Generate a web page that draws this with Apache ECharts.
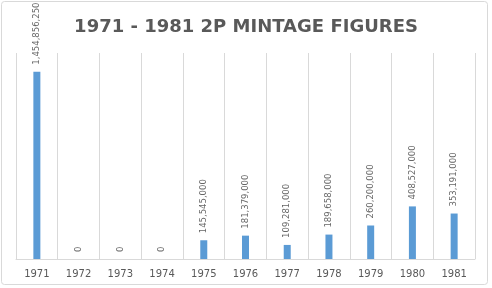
<!DOCTYPE html>
<html>
<head>
<meta charset="utf-8">
<script src="https://cdn.jsdelivr.net/npm/echarts@6/dist/echarts.min.js"></script>
<style>html,body{margin:0;padding:0;background:#fff}#c{width:492px;height:288px}</style>
</head>
<body>
<div id="c"></div>
<script>
const titleText = '1971 - 1981 2P MINTAGE FIGURES';
const categories = ['1971','1972','1973','1974','1975','1976','1977','1978','1979','1980','1981'];
const mintage = [1454856250, 0, 0, 0, 145545000, 181379000, 109281000, 189658000, 260200000, 408527000, 353191000];
const yMax = 1600000000;

const chart = echarts.init(document.getElementById('c'), null, {renderer: 'canvas'});
chart.setOption({
  animation: false,
  backgroundColor: '#fff',
  title: {
    text: titleText,
    left: 'center',
    top: 13,
    textStyle: {fontFamily: 'DejaVu Sans', fontWeight: 'bold', fontSize: 18, color: '#595959'}
  },
  graphic: [{
    type: 'rect',
    shape: {x: 1.5, y: 1.5, width: 486, height: 283, r: 3},
    style: {fill: 'none', stroke: '#d9d9d9', lineWidth: 1},
    silent: true
  }],
  grid: {left: 16, right: 17, top: 53, bottom: 29},
  xAxis: {
    type: 'category',
    data: categories,
    boundaryGap: true,
    axisLine: {show: true, lineStyle: {color: '#d9d9d9'}},
    axisTick: {show: false},
    splitLine: {show: true, interval: 0, lineStyle: {color: '#d9d9d9'}},
    axisLabel: {interval: 0, margin: 10, color: '#595959', fontFamily: 'DejaVu Sans', fontSize: 10}
  },
  yAxis: {
    type: 'value',
    min: 0,
    max: yMax,
    show: false,
    splitLine: {show: false}
  },
  series: [{
    type: 'bar',
    data: mintage,
    barWidth: 7,
    itemStyle: {color: '#5b9bd5'},
    label: {
      show: true,
      position: 'top',
      rotate: 90,
      align: 'left',
      verticalAlign: 'middle',
      distance: 7,
      color: '#666666',
      fontFamily: 'DejaVu Sans',
      fontSize: 8.5,
      formatter: p => p.value.toLocaleString('en-US')
    }
  }]
});
</script>
</body>
</html>
